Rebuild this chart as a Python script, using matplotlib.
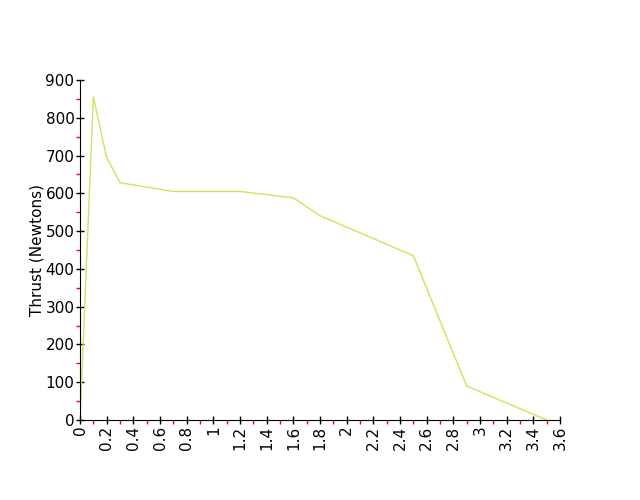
import matplotlib
matplotlib.use("Agg")
import matplotlib.pyplot as plt
from matplotlib.ticker import MultipleLocator

time_s = [0.0, 0.1, 0.2, 0.3, 0.7, 1.2, 1.6, 1.8, 2.5, 2.9, 3.5]
thrust_n = [0, 855, 695, 628, 605, 605, 588, 541, 435, 90, 0]

fig = plt.figure(figsize=(6.4, 5.0), dpi=100)
ax = fig.add_axes([80/640, 80/500, 480/640, 340/500])
ax.plot(time_s, thrust_n, color="#c8e65a", linewidth=1.0)
ax.set_xlim(0, 3.6)
ax.set_ylim(0, 900)
ax.xaxis.set_major_locator(MultipleLocator(0.2))
ax.xaxis.set_minor_locator(MultipleLocator(0.1))
ax.yaxis.set_major_locator(MultipleLocator(100))
ax.yaxis.set_minor_locator(MultipleLocator(50))
ax.set_xticklabels([f"{v:g}" for v in ax.get_xticks()])
for s in ("top", "right"):
    ax.spines[s].set_visible(False)
ax.tick_params(which="major", direction="inout", length=6, width=1, colors="black",
               labelsize=11, pad=1)
ax.tick_params(which="minor", direction="out", length=3, width=1, color="#ff0000")
plt.setp(ax.get_xticklabels(), rotation=90)
ax.set_ylabel("Thrust (Newtons)", fontsize=11, labelpad=1)
fig.savefig("out.png", dpi=100)
